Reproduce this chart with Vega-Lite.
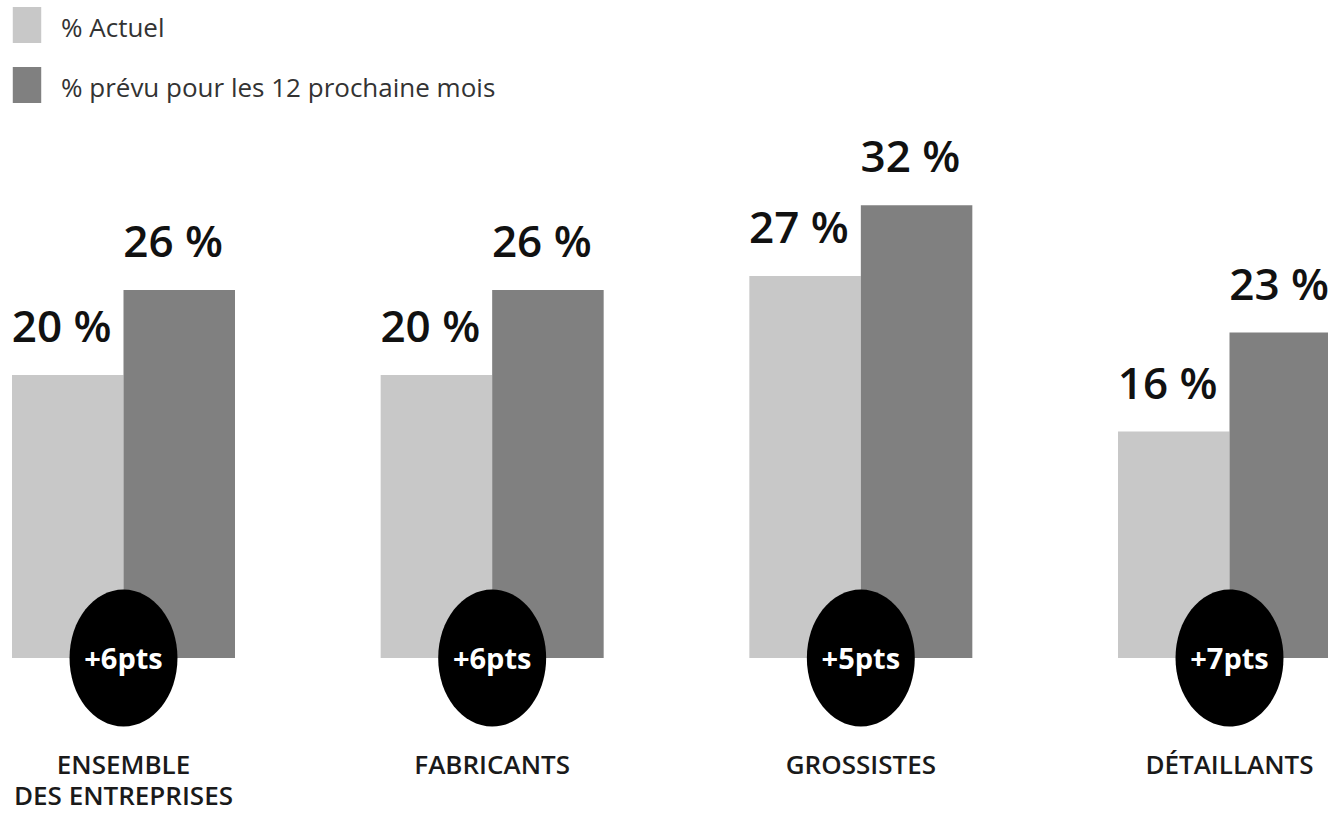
{
  "$schema": "https://vega.github.io/schema/vega-lite/v6.json",
  "width": 1328,
  "height": 750,
  "autosize": {"type": "none"},
  "padding": {"left": 0, "top": 0, "right": 0, "bottom": 69},
  "background": "white",
  "config": {"view": {"stroke": null}},
  "datasets": {
    "bars": [
      {"cat": "ENSEMBLE DES ENTREPRISES", "series": "% Actuel", "value": 20, "label": "20 %"},
      {"cat": "ENSEMBLE DES ENTREPRISES", "series": "% prévu pour les 12 prochaine mois", "value": 26, "label": "26 %"},
      {"cat": "FABRICANTS", "series": "% Actuel", "value": 20, "label": "20 %"},
      {"cat": "FABRICANTS", "series": "% prévu pour les 12 prochaine mois", "value": 26, "label": "26 %"},
      {"cat": "GROSSISTES", "series": "% Actuel", "value": 27, "label": "27 %"},
      {"cat": "GROSSISTES", "series": "% prévu pour les 12 prochaine mois", "value": 32, "label": "32 %"},
      {"cat": "DÉTAILLANTS", "series": "% Actuel", "value": 16, "label": "16 %"},
      {"cat": "DÉTAILLANTS", "series": "% prévu pour les 12 prochaine mois", "value": 23, "label": "23 %"}
    ],
    "deltas": [
      {"cat": "ENSEMBLE DES ENTREPRISES", "delta": "+6pts"},
      {"cat": "FABRICANTS", "delta": "+6pts"},
      {"cat": "GROSSISTES", "delta": "+5pts"},
      {"cat": "DÉTAILLANTS", "delta": "+7pts"}
    ]
  },
  "encoding": {
    "x": {
      "field": "cat",
      "type": "nominal",
      "scale": {
        "domain": ["ENSEMBLE DES ENTREPRISES", "FABRICANTS", "GROSSISTES", "DÉTAILLANTS"],
        "range": [12, 1341],
        "paddingInner": 0.3951,
        "paddingOuter": 0
      },
      "axis": {
        "title": null,
        "domain": false,
        "ticks": false,
        "grid": false,
        "labelAngle": 0,
        "labelPadding": 2,
        "labelFont": "Open Sans",
        "labelFontSize": 26,
        "labelFontWeight": 600,
        "labelColor": "#1a1a1a",
        "labelLineHeight": 31,
        "labelOverlap": false,
        "labelFlush": false,
        "labelBound": false,
        "labelLimit": 400,
        "labelExpr": "datum.value == 'ENSEMBLE DES ENTREPRISES' ? ['ENSEMBLE', 'DES ENTREPRISES'] : datum.label"
      }
    }
  },
  "layer": [
    {
      "data": {"name": "bars"},
      "mark": {"type": "bar", "opacity": 1},
      "encoding": {
        "xOffset": {
          "field": "series",
          "type": "nominal",
          "scale": {"domain": ["% Actuel", "% prévu pour les 12 prochaine mois"], "paddingInner": 0, "paddingOuter": 0}
        },
        "y": {
          "field": "value",
          "type": "quantitative",
          "scale": {"domain": [0, 46.5], "range": [658, 0], "nice": false, "zero": true},
          "axis": null
        },
        "color": {
          "field": "series",
          "type": "nominal",
          "scale": {"domain": ["% Actuel", "% prévu pour les 12 prochaine mois"], "range": ["#c8c8c8", "#808080"]},
          "legend": {
            "title": null,
            "orient": "none",
            "legendX": 9,
            "legendY": 7,
            "padding": 0,
            "symbolType": "M -0.79 -1 L 0.79 -1 L 0.79 1 L -0.79 1 Z",
            "symbolSize": 1296,
            "symbolStrokeWidth": 0,
            "symbolOpacity": 1,
            "labelFont": "Open Sans",
            "labelFontSize": 26,
            "labelColor": "#333333",
            "labelOffset": 16,
            "labelLimit": 600,
            "rowPadding": 24,
            "encode": {"labels": {"update": {"dy": {"value": 4}}}}
          }
        }
      }
    },
    {
      "data": {"name": "bars"},
      "mark": {"type": "text", "align": "left", "baseline": "alphabetic", "dx": -56, "dy": -33, "font": "Open Sans", "fontSize": 44, "fontWeight": 600, "color": "#111111"},
      "encoding": {
        "xOffset": {"field": "series", "type": "nominal"},
        "y": {"field": "value", "type": "quantitative"},
        "text": {"field": "label"}
      }
    },
    {
      "data": {"name": "deltas"},
      "mark": {
        "type": "point",
        "shape": "M -0.788 0 A 0.788 1 0 1 0 0.788 0 A 0.788 1 0 1 0 -0.788 0 Z",
        "size": 18769,
        "filled": true,
        "fill": "#000000",
        "opacity": 1,
        "strokeWidth": 0
      },
      "encoding": {
        "y": {"datum": 0, "type": "quantitative"}
      }
    },
    {
      "data": {"name": "deltas"},
      "mark": {"type": "text", "baseline": "middle", "align": "center", "font": "Open Sans", "fontSize": 29, "fontWeight": 700, "color": "#ffffff", "dy": 2},
      "encoding": {
        "y": {"datum": 0, "type": "quantitative"},
        "text": {"field": "delta"}
      }
    }
  ]
}
